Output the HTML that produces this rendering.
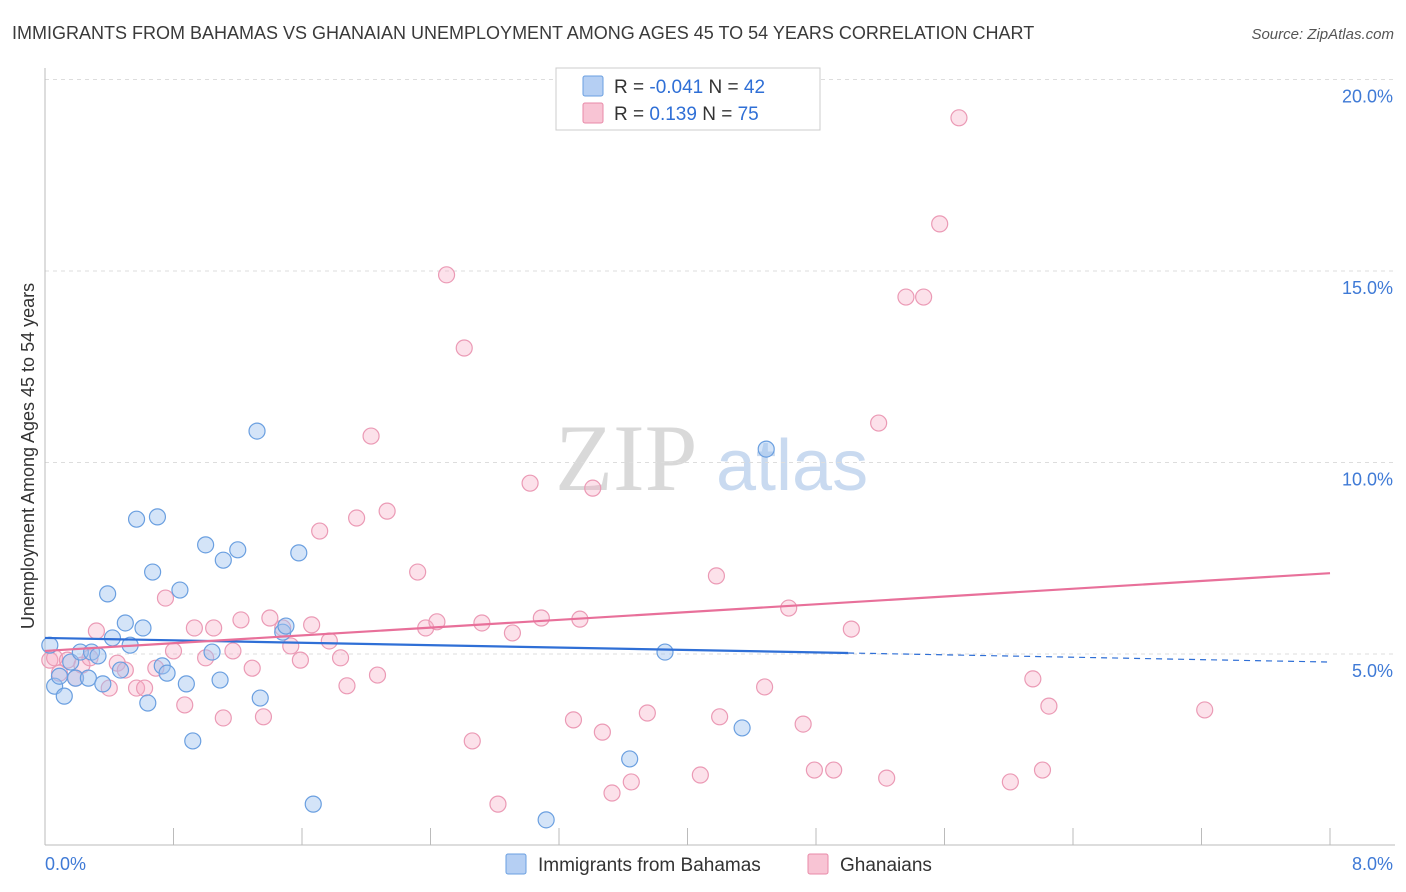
<!DOCTYPE html>
<html><head><meta charset="utf-8">
<style>
body{margin:0;background:#fff;font-family:"Liberation Sans",sans-serif;}
svg{display:block}
</style></head>
<body>
<svg id="chart" width="1406" height="892" xmlns="http://www.w3.org/2000/svg">
<text x="12" y="39" font-size="18" fill="#3a3a3a">IMMIGRANTS FROM BAHAMAS VS GHANAIAN UNEMPLOYMENT AMONG AGES 45 TO 54 YEARS CORRELATION CHART</text>
<text x="1394" y="39" font-size="15" fill="#555" font-style="italic" text-anchor="end">Source: ZipAtlas.com</text>
<text x="555" y="490" font-size="95" fill="#d9d9d9" font-family="Liberation Serif,serif">ZIP</text>
<text x="716" y="490" font-size="72" fill="#c9daf0">atlas</text>
<g id="grid"></g>
<g id="axes"></g>
<g id="marks"></g>
<text transform="translate(34,456) rotate(-90)" font-size="18" fill="#333" text-anchor="middle">Unemployment Among Ages 45 to 54 years</text>
<g>
<rect x="556" y="68" width="264" height="62" fill="#fff" stroke="#ccc"/>
<rect x="583" y="76" width="20" height="20" fill="#b5cff3" stroke="#6a9fe0" rx="2"/>
<text x="614" y="93" font-size="19" fill="#333">R = <tspan fill="#2f6fd6">-0.041</tspan>   N = <tspan fill="#2f6fd6">42</tspan></text>
<rect x="583" y="103" width="20" height="20" fill="#f8c4d4" stroke="#e88aa8" rx="2"/>
<text x="614" y="120" font-size="19" fill="#333">R =   <tspan fill="#2f6fd6">0.139</tspan>   N = <tspan fill="#2f6fd6">75</tspan></text>
</g>
<g>
<rect x="506" y="854" width="20" height="20" fill="#b5cff3" stroke="#6a9fe0" rx="2"/>
<text x="538" y="871" font-size="19" fill="#333">Immigrants from Bahamas</text>
</g>
<g>
<rect x="808" y="854" width="20" height="20" fill="#f8c4d4" stroke="#e88aa8" rx="2"/>
<text x="840" y="871" font-size="19" fill="#333">Ghanaians</text>
</g>
</svg>
<script>
const yTicks=[5,10,15,20];
const yTickLabels=["5.0%","10.0%","15.0%","20.0%"];
const xTickLabels=["0.0%","8.0%"];
const blueX=[0.03,0.06,0.09,0.12,0.16,0.19,0.22,0.27,0.29,0.33,0.36,0.39,0.42,0.47,0.50,0.53,0.57,0.61,0.64,0.67,0.70,0.73,0.76,0.84,0.88,0.92,1.00,1.04,1.09,1.11,1.20,1.32,1.34,1.48,1.50,1.58,1.67,3.12,3.64,3.86,4.34,4.49];
const blueY=[5.23,4.16,4.42,3.90,4.79,4.37,5.05,4.37,5.05,4.95,4.22,6.57,5.42,4.58,5.81,5.23,8.52,5.68,3.72,7.14,8.58,4.69,4.50,6.67,4.22,2.73,7.85,5.05,4.32,7.45,7.72,10.82,3.85,5.57,5.73,7.64,1.08,0.67,2.26,5.05,3.07,10.35];
const pinkX=[0.03,0.06,0.09,0.14,0.19,0.23,0.28,0.32,0.40,0.45,0.50,0.57,0.62,0.69,0.75,0.80,0.87,0.93,1.00,1.05,1.11,1.17,1.22,1.29,1.36,1.40,1.48,1.53,1.59,1.66,1.71,1.77,1.84,1.88,1.94,2.03,2.07,2.13,2.32,2.37,2.44,2.50,2.61,2.66,2.72,2.82,2.91,3.02,3.09,3.29,3.33,3.41,3.47,3.53,3.65,3.75,4.08,4.18,4.20,4.48,4.63,4.72,4.79,4.91,5.02,5.19,5.24,5.36,5.47,5.57,5.69,6.01,6.15,6.21,6.25,7.22];
const pinkY=[4.84,4.90,4.50,4.84,4.37,4.71,4.90,5.60,4.11,4.76,4.58,4.11,4.11,4.63,6.46,5.08,3.67,5.68,4.90,5.68,3.33,5.08,5.89,4.63,3.36,5.94,5.68,5.21,4.84,5.76,8.21,5.34,4.90,4.17,8.55,10.69,4.45,8.73,7.14,5.68,5.84,14.90,12.99,2.73,5.81,1.08,5.55,9.46,5.94,3.28,5.91,9.33,2.96,1.37,1.66,3.46,1.84,7.04,3.36,4.14,6.20,3.17,1.97,1.97,5.65,11.03,1.76,14.32,14.32,16.23,19.00,1.66,4.35,1.97,3.64,3.54];
const blueTrend=[5.42,4.79];
const pinkTrend=[5.08,7.11];
const blueSolidEnd=5.0;

const NS="http://www.w3.org/2000/svg";
const X0=45,X1=1330,Y0=845.5,PXY=38.3;
function sx(v){return X0+(X1-X0)*v/8;}
function sy(v){return Y0-v*PXY;}
function mk(tag,attrs,parent){const e=document.createElementNS(NS,tag);for(const k in attrs)e.setAttribute(k,attrs[k]);parent.appendChild(e);return e;}
const grid=document.getElementById('grid'),axes=document.getElementById('axes'),marks=document.getElementById('marks');
yTicks.forEach((t,i)=>{
  const l=mk('line',{x1:45,x2:1395,y1:sy(t),y2:sy(t),stroke:'#ddd','stroke-dasharray':'4,4'},grid);
  
  
  const tx=mk('text',{x:1393,y:sy(t)+23,'font-size':18,fill:'#3f7ad6','text-anchor':'end'},axes);
  tx.textContent=yTickLabels[i];
  
  
});
const ya=mk('line',{x1:45,x2:45,y1:68,y2:845,stroke:'#bbb'},axes);


const xa=mk('line',{x1:45,x2:1395,y1:845,y2:845,stroke:'#bbb'},axes);


for(let i=1;i<=10;i++){
  const t=mk('line',{x1:sx(i*0.8),x2:sx(i*0.8),y1:828,y2:845,stroke:'#bbb'},axes);
  
  
}
const xl0=mk('text',{x:45,y:870,'font-size':18,fill:'#3f7ad6'},axes);xl0.textContent=xTickLabels[0];


const xl1=mk('text',{x:1393,y:870,'font-size':18,fill:'#3f7ad6','text-anchor':'end'},axes);xl1.textContent=xTickLabels[1];



pinkX.forEach((x,i)=>{
  const c=mk('circle',{cx:sx(x),cy:sy(pinkY[i]),r:8,fill:'rgba(245,170,195,0.35)',stroke:'#eb9ab5','stroke-width':1.2},marks);
  
  
});
blueX.forEach((x,i)=>{
  const c=mk('circle',{cx:sx(x),cy:sy(blueY[i]),r:8,fill:'rgba(160,195,240,0.45)',stroke:'#6a9fe0','stroke-width':1.2},marks);
  
  
});
function trendAt(tr,x){return tr[0]+(tr[1]-tr[0])*x/8;}
const bl=mk('line',{x1:sx(0),y1:sy(blueTrend[0]),x2:sx(blueSolidEnd),y2:sy(trendAt(blueTrend,blueSolidEnd)),stroke:'#2f6fd6','stroke-width':2.2},marks);


const bd=mk('line',{x1:sx(blueSolidEnd),y1:sy(trendAt(blueTrend,blueSolidEnd)),x2:sx(8),y2:sy(blueTrend[1]),stroke:'#2f6fd6','stroke-width':1.2,'stroke-dasharray':'6,5'},marks);


const pl=mk('line',{x1:sx(0),y1:sy(pinkTrend[0]),x2:sx(8),y2:sy(pinkTrend[1]),stroke:'#e8709a','stroke-width':2.2},marks);


</script>
</body></html>
